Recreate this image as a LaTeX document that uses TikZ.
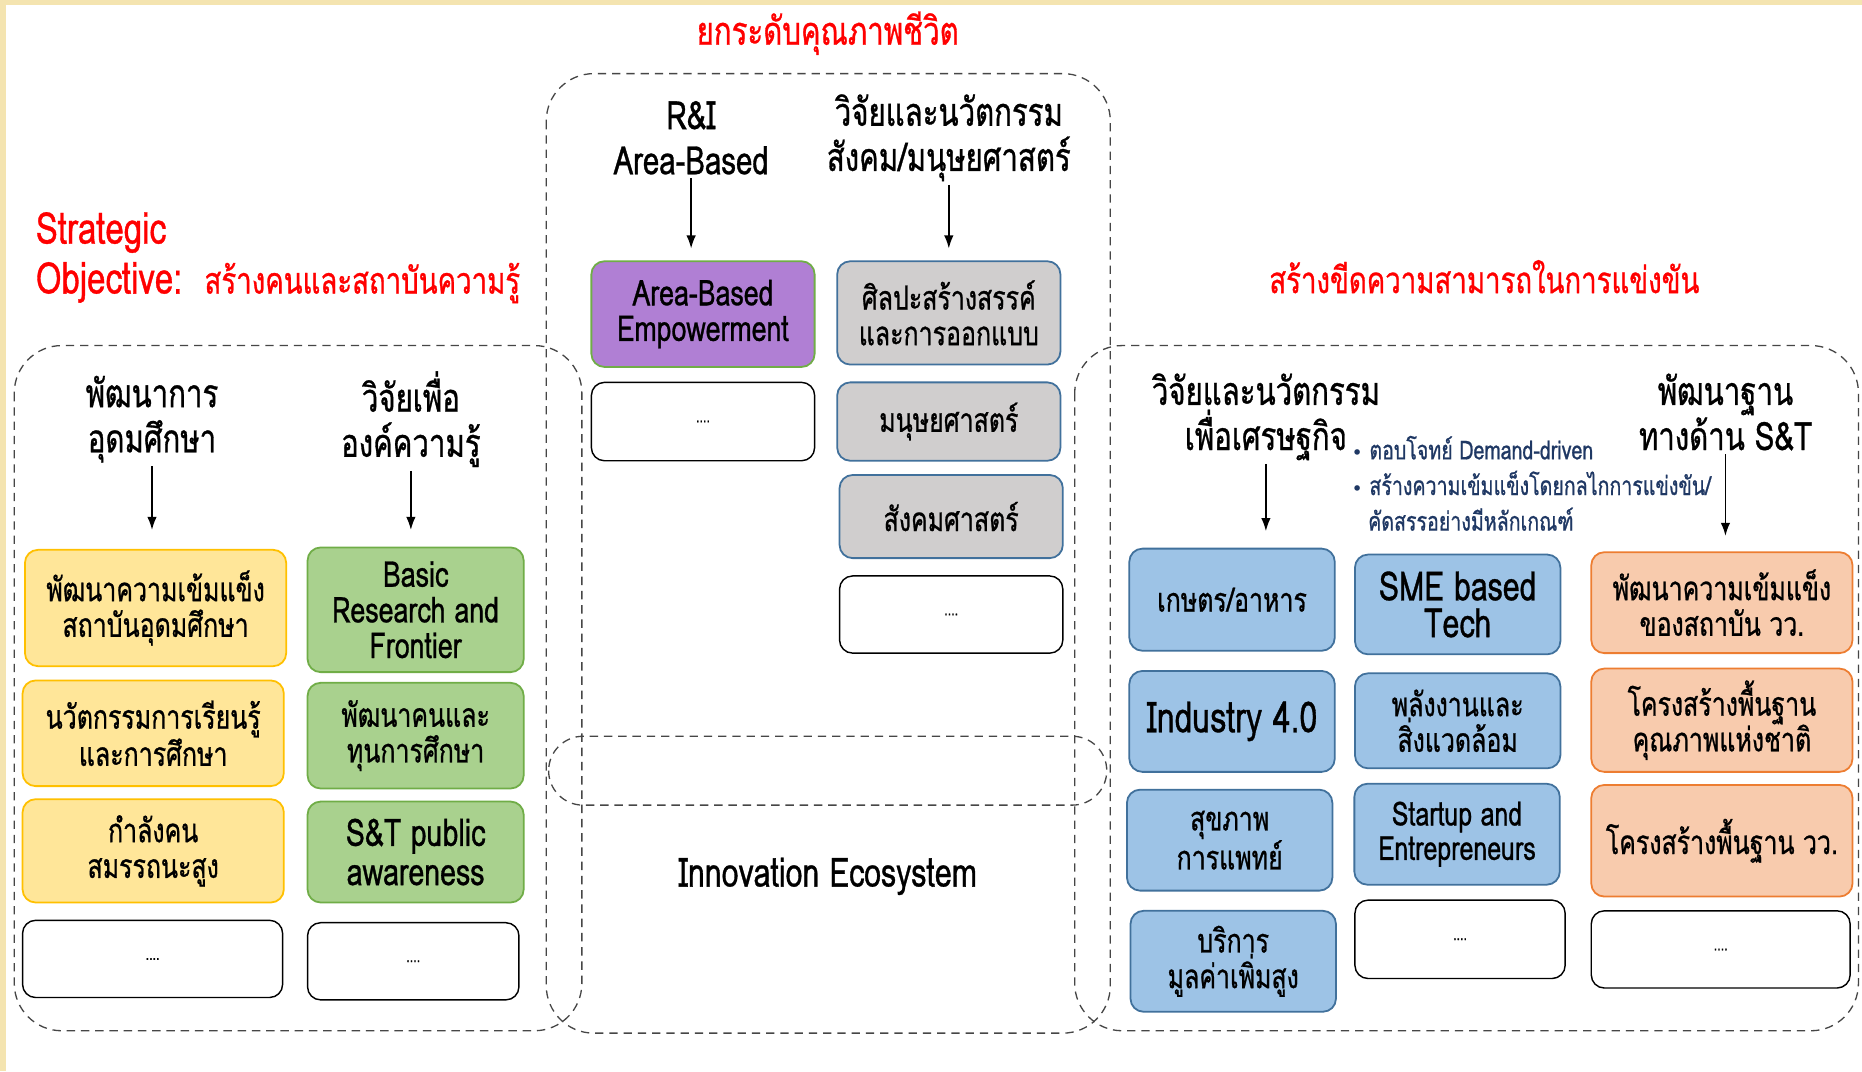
\documentclass[tikz,border=0pt]{standalone}
\usepackage{fontspec}
\setmainfont{Loma}[Script=Thai,FakeStretch=0.75,FakeBold=0.8]
\newfontfamily\symfont{DejaVu Sans}
\usetikzlibrary{arrows.meta}
\definecolor{framecream}{RGB}{244,228,176}
\definecolor{titlered}{RGB}{255,0,0}
\definecolor{bulletnavy}{RGB}{31,56,100}
\definecolor{grpgray}{RGB}{70,70,70}
\definecolor{purplefill}{RGB}{176,127,212}
\definecolor{greenline}{RGB}{112,173,71}
\definecolor{greenfill}{RGB}{169,209,142}
\definecolor{grayfill}{RGB}{208,206,206}
\definecolor{blueline}{RGB}{65,113,156}
\definecolor{bluefill}{RGB}{157,195,230}
\definecolor{yellowfill}{RGB}{255,230,153}
\definecolor{yellowline}{RGB}{255,192,0}
\definecolor{orangefill}{RGB}{248,203,173}
\definecolor{orangeline}{RGB}{237,125,49}

\tikzset{
	head/.style={align=center, inner sep=0pt, font=\fontsize{33}{38}\selectfont},
	redtitle/.style={text=titlered, inner sep=0pt, font=\fontsize{31}{42}\selectfont},
	grp/.style={draw=grpgray, line width=1.1pt, dash pattern=on 7pt off 5pt, rounded corners=40pt},
	arr/.style={-{Latex[length=11pt,width=8pt]}, line width=1.3pt, shorten <=3pt},
	box/.style={rounded corners=11pt, line width=1.5pt, align=center, inner sep=0pt, font=\fontsize{28}{30}\selectfont},
	ybox/.style={box, fill=yellowfill, draw=yellowline, minimum width=220pt},
	gbox/.style={box, fill=greenfill, draw=greenline, minimum width=182pt},
	pbox/.style={box, fill=purplefill, draw=greenline, minimum width=188pt},
	sbox/.style={box, fill=grayfill, draw=blueline, minimum width=188pt},
	bbox/.style={box, fill=bluefill, draw=blueline, minimum width=173pt},
	obox/.style={box, fill=orangefill, draw=orangeline, minimum width=220pt},
	wbox/.style={box, fill=white, draw=black, line width=1.2pt, font=\fontsize{14}{16}\selectfont},
}

\begin{document}
\begin{tikzpicture}[x=1pt,y=-1pt]
	% page and cream frame
	\fill[framecream] (0,0) rectangle (1568,902);
	\fill[white] (5,4) rectangle (1568,902);
	\useasboundingbox (0,0) rectangle (1568,902);
	
	% dashed groups
	\draw[grp] (460,62) rectangle (935,870);
	\draw[grp] (12,291) rectangle (490,868);
	\draw[grp] (905,291) rectangle (1565,868);
	\draw[grp, rounded corners=29pt] (462,620) rectangle (932,678);
	
	% titles
	\node[redtitle, font=\fontsize{33}{42}\selectfont] (tLife) at (697,28) {ยกระดับคุณภาพชีวิต};
	\node[redtitle, align=left, anchor=west, font=\fontsize{37}{42}\selectfont] (tStrat) at (30,217)
		{Strategic\\Objective:\ \ {\fontsize{31}{42}\selectfont สร้างคนและสถาบันความรู้}};
	\node[redtitle] (tCompete) at (1250,233) {สร้างขีดความสามารถในการแข่งขัน};
	
	% centre group
	\node[head] (hArea) at (582,116) {R\&I\\Area-Based};
	\node[head] (hSoc) at (799,116) {วิจัยและนวัตกรรม\\สังคม/มนุษยศาสตร์};
	\node[pbox, minimum height=89pt, font=\fontsize{30}{30}\selectfont] (pArea) at (592,264.5) {Area-Based\\Empowerment};
	\node[wbox, minimum width=188pt, minimum height=66pt] (wArea) at (592,355) {....};
	\node[sbox, minimum height=87pt] (sArt) at (799,263.5) {ศิลปะสร้างสรรค์\\และการออกแบบ};
	\node[sbox, minimum height=66pt] (sHum) at (799,355) {มนุษยศาสตร์};
	\node[sbox, minimum height=70pt] (sSoc) at (801,435) {สังคมศาสตร์};
	\node[wbox, minimum width=188pt, minimum height=65pt] (wSoc) at (801,517.5) {....};
	\node[head, font=\fontsize{34}{38}\selectfont] (hEco) at (697,738) {Innovation Ecosystem};
	\draw[arr, shorten >=10pt] (hArea.south) -- (hArea.south |- pArea.north);
	\draw[arr, shorten >=10pt] (hSoc.south) -- (hSoc.south |- sArt.north);
	
	% left group
	\node[head] (hEdu) at (128,353) {พัฒนาการ\\อุดมศึกษา};
	\node[head] (hKnow) at (346,353) {วิจัยเพื่อ\\องค์ความรู้};
	\node[ybox, minimum height=98pt] (yUni) at (131,512) {พัฒนาความเข้มแข็ง\\สถาบันอุดมศึกษา};
	\node[ybox, minimum height=89pt] (yLearn) at (129,617.5) {นวัตกรรมการเรียนรู้\\และการศึกษา};
	\node[ybox, minimum height=87pt] (yMan) at (129,716.5) {กำลังคน\\สมรรถนะสูง};
	\node[wbox, minimum width=219pt, minimum height=65pt] (yMore) at (128.5,807.5) {....};
	\node[gbox, minimum height=105pt, font=\fontsize{30}{30}\selectfont] (gBasic) at (350,513.5) {Basic\\Research and\\Frontier};
	\node[gbox, minimum height=89pt] (gFund) at (350,619.5) {พัฒนาคนและ\\ทุนการศึกษา};
	\node[gbox, minimum height=85pt, font=\fontsize{32}{33}\selectfont] (gAware) at (350,717.5) {S\&T public\\awareness};
	\node[wbox, minimum width=178pt, minimum height=65pt] (gMore) at (348,809.5) {....};
	\draw[arr, shorten >=16pt] (hEdu.south) -- (hEdu.south |- yUni.north);
	\draw[arr, shorten >=14pt] (hKnow.south) -- (hKnow.south |- gBasic.north);
	
	% right group
	\node[head] (hBiz) at (1066,351) {วิจัยและนวัตกรรม\\เพื่อเศรษฐกิจ};
	\node[head] (hSci) at (1453,347) {พัฒนาฐาน\\ทางด้าน S\&T};
	\node[text=bulletnavy, align=left, anchor=west, inner sep=0pt, font=\fontsize{22}{30}\selectfont] (nBullets) at (1138,407)
		{{\symfont\fontsize{16}{30}\selectfont •} ตอบโจทย์ Demand-driven\\{\symfont\fontsize{16}{30}\selectfont •} สร้างความเข้มแข็งโดยกลไกการแข่งขัน/\\\hspace{14pt}คัดสรรอย่างมีหลักเกณฑ์};
	\node[bbox, minimum height=86pt] (bFood) at (1037.5,505) {เกษตร/อาหาร};
	\node[bbox, minimum height=85pt, font=\fontsize{36}{38}\selectfont] (bInd) at (1037.5,607.5) {Industry 4.0};
	\node[bbox, minimum height=85pt] (bHealth) at (1035.5,707.5) {สุขภาพ\\การแพทย์};
	\node[bbox, minimum height=85pt] (bServ) at (1038.5,809.5) {บริการ\\มูลค่าเพิ่มสูง};
	\node[bbox, minimum height=84pt, font=\fontsize{34}{31}\selectfont] (bSme) at (1227.5,509) {SME based\\Tech};
	\node[bbox, minimum height=80pt] (bEnergy) at (1227.5,607) {พลังงานและ\\สิ่งแวดล้อม};
	\node[bbox, minimum height=85pt, font=\fontsize{28}{29}\selectfont] (bStart) at (1227,702.5) {Startup and\\Entrepreneurs};
	\node[wbox, minimum width=177pt, minimum height=66pt] (bMore) at (1229.5,791) {....};
	\node[obox, minimum height=85pt] (oInst) at (1450,507.5) {พัฒนาความเข้มแข็ง\\ของสถาบัน วว.};
	\node[obox, minimum height=87pt] (oQual) at (1450,606.5) {โครงสร้างพื้นฐาน\\คุณภาพแห่งชาติ};
	\node[obox, minimum height=94pt] (oInfra) at (1450,708) {โครงสร้างพื้นฐาน วว.};
	\node[wbox, minimum width=218pt, minimum height=65pt] (oMore) at (1449,799.5) {....};
	\draw[arr, shorten >=14pt] (hBiz.south) -- (hBiz.south |- bFood.north);
	\draw[arr, shorten >=13pt] (hSci.south) -- (hSci.south |- oInst.north);
\end{tikzpicture}
\end{document}
